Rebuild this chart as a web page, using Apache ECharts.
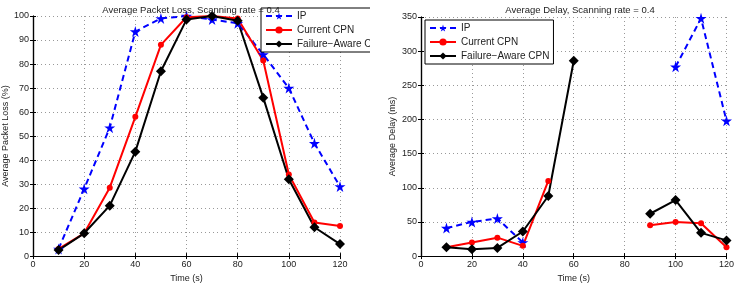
<!DOCTYPE html>
<html>
<head>
<meta charset="utf-8">
<script src="https://cdn.jsdelivr.net/npm/echarts@6/dist/echarts.min.js"></script>
<style>
  html, body { margin: 0; padding: 0; background: #fff; }
  #main { width: 737px; height: 288px; }
</style>
</head>
<body>
<div id="main"></div>
<script>
// time points (s)
var times = [10, 20, 30, 40, 50, 60, 70, 80, 90, 100, 110, 120]

// packet loss (%)
var lossIP = [3, 28, 53.5, 93.5, 99, 100, 98.5, 97, 84, 70, 47, 29]
var lossCPN = [3, 9.5, 28.5, 58, 88, 99.5, 100, 99, 81.5, 34, 14, 12.5]
var lossFA = [2.5, 9.5, 21, 43.5, 77, 98.5, 100, 98, 66, 32, 12, 5]

// delay (ms), null = no value
var delayIP = [41, 50, 55, 20, null, null, null, null, null, 277, 348, 198]
var delayCPN = [13, 20, 27, 15, 110, null, null, null, 45, 50, 48, 13]
var delayFA = [13, 10, 12, 36, 88, 286, null, null, 62, 82, 34, 23]

var seriesNames = ['IP', 'Current CPN', 'Failure\u2212Aware CPN']

function pairs(vals) {
  return times.map(function (t, i) { return [t, vals[i]] })
}

var star = 'path://M50,0 L61,35 L98,35 L68,57 L79,91 L50,70 L21,91 L32,57 L2,35 L39,35 Z'
var font = 'Liberation Sans, Arial, sans-serif'
var txt = '#222'

function xAx(gi) {
  return {
    type: 'value', gridIndex: gi, min: 0, max: 120, interval: 20,
    name: 'Time (s)', nameLocation: 'middle', nameGap: 17,
    nameTextStyle: { fontSize: 9, color: txt, fontFamily: font },
    axisLine: { show: true, lineStyle: { color: '#000', width: 1.2 } },
    axisTick: { show: true, inside: true, length: 3, lineStyle: { color: '#000' } },
    axisLabel: { fontSize: 9, color: txt, fontFamily: font, margin: 4 },
    splitLine: { show: true, lineStyle: { color: '#999', type: [1, 3], width: 1 } }
  }
}
function yAx(gi, max, step, name, gap) {
  return {
    type: 'value', gridIndex: gi, min: 0, max: max, interval: step,
    name: name, nameLocation: 'middle', nameGap: gap,
    nameTextStyle: { fontSize: 9, color: txt, fontFamily: font },
    axisLine: { show: true, lineStyle: { color: '#000', width: 1.2 } },
    axisTick: { show: true, inside: true, length: 3, lineStyle: { color: '#000' } },
    axisLabel: { fontSize: 9, color: txt, fontFamily: font, margin: 4 },
    splitLine: { show: true, lineStyle: { color: '#999', type: [1, 3], width: 1 } }
  }
}
function xTop(gi) {
  return {
    type: 'value', gridIndex: gi, position: 'top', min: 0, max: 120, interval: 20,
    axisLine: { show: true, lineStyle: { color: '#000', width: 1.2 } },
    axisTick: { show: true, inside: true, length: 3, lineStyle: { color: '#000' } },
    axisLabel: { show: false }, splitLine: { show: false }
  }
}
function yRight(gi, max, step) {
  return {
    type: 'value', gridIndex: gi, position: 'right', min: 0, max: max, interval: step,
    axisLine: { show: true, lineStyle: { color: '#000', width: 1.2 } },
    axisTick: { show: true, inside: true, length: 3, lineStyle: { color: '#000' } },
    axisLabel: { show: false }, splitLine: { show: false }
  }
}

function mkSeries(name, vals, gi, kind) {
  var s = {
    name: name, type: 'line', xAxisIndex: gi, yAxisIndex: gi,
    data: pairs(vals), animation: false, connectNulls: false
  }
  if (kind === 0) {
    s.symbol = star; s.symbolSize = 11
    s.itemStyle = { color: '#0000ff' }
    s.lineStyle = { color: '#0000ff', width: 2, type: [6, 4] }
  } else if (kind === 1) {
    s.symbol = 'circle'; s.symbolSize = 6
    s.itemStyle = { color: '#ff0000' }
    s.lineStyle = { color: '#ff0000', width: 2 }
  } else {
    s.symbol = 'diamond'; s.symbolSize = 10
    s.itemStyle = { color: '#000' }
    s.lineStyle = { color: '#000', width: 2 }
  }
  return s
}

var legendBase = {
  orient: 'vertical', itemWidth: 26, itemHeight: 9, itemGap: 4,
  padding: [3, 4], borderColor: '#000', borderWidth: 1, backgroundColor: '#fff',
  textStyle: { fontSize: 10, color: txt, fontFamily: font }, data: seriesNames
}

var myChart = echarts.init(document.getElementById('main'))
var option = {
  backgroundColor: '#fff',
  animation: false,
  title: [
    { text: 'Average Packet Loss, Scanning rate = 0.4', left: 186, top: 0, textAlign: 'center',
      textStyle: { fontSize: 9.5, fontWeight: 'normal', color: txt, fontFamily: font } },
    { text: 'Average Delay, Scanning rate = 0.4', left: 575, top: 0, textAlign: 'center',
      textStyle: { fontSize: 9.5, fontWeight: 'normal', color: txt, fontFamily: font } }
  ],
  grid: [
    { left: 33, right: 397, top: 16, bottom: 30, show: false },
    { left: 421, right: 9, top: 17, bottom: 30, show: false }
  ],
  xAxis: [xAx(0), xAx(1), xTop(0), xTop(1)],
  yAxis: [
    yAx(0, 100, 10, 'Average Packet Loss (%)', 19),
    yAx(1, 350, 50, 'Average Delay (ms)', 24),
    yRight(0, 100, 10), yRight(1, 350, 50)
  ],
  legend: [
    Object.assign({}, legendBase, { left: 261, top: 8 }),
    Object.assign({}, legendBase, { left: 425, top: 20 })
  ],
  series: [
    mkSeries(seriesNames[0], lossIP, 0, 0),
    mkSeries(seriesNames[1], lossCPN, 0, 1),
    mkSeries(seriesNames[2], lossFA, 0, 2),
    mkSeries(seriesNames[0], delayIP, 1, 0),
    mkSeries(seriesNames[1], delayCPN, 1, 1),
    mkSeries(seriesNames[2], delayFA, 1, 2)
  ],
  // right subplot background hides the end of the left legend
  graphic: [
    { type: 'rect', z: 100, shape: { x: 370, y: 0, width: 27, height: 60 }, style: { fill: '#fff' } }
  ]
}
option && myChart.setOption(option)
</script>
</body>
</html>
